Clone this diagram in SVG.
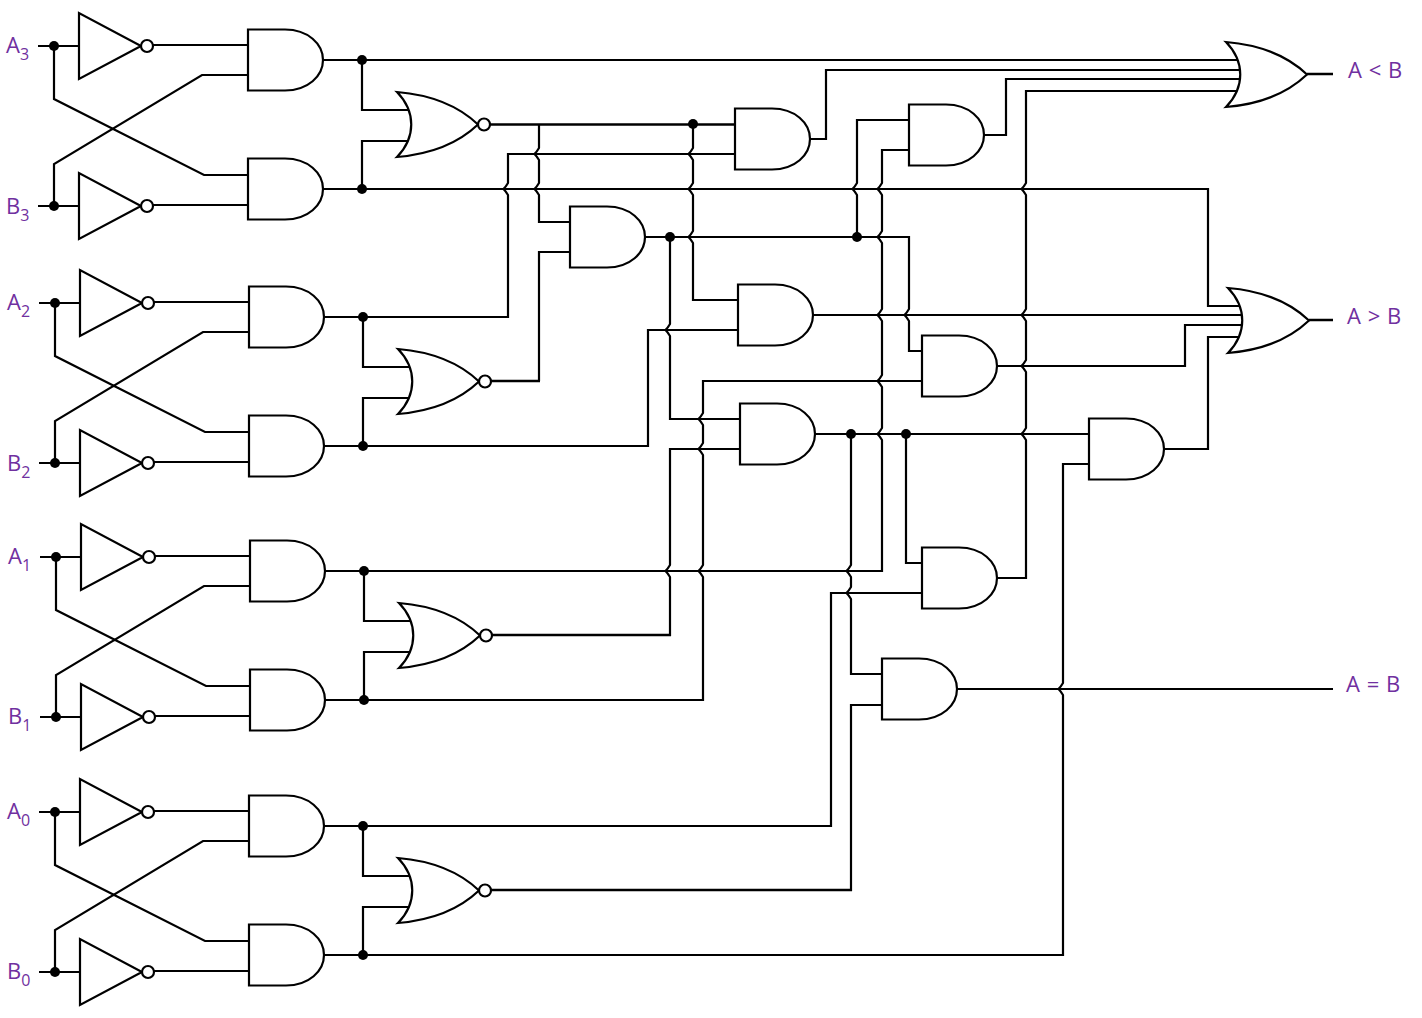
<svg xmlns="http://www.w3.org/2000/svg" width="1422" height="1018" viewBox="0 0 1422 1018">
<style>
.w{fill:none;stroke:#000;stroke-width:2.2;stroke-linejoin:miter}
.t{stroke-width:2.7}
.g{fill:#fff;stroke:#000;stroke-width:2.2;stroke-linejoin:miter}
.d{fill:#000;stroke:none}
.l{font-family:"Open Sans","Liberation Sans",sans-serif;font-size:22px;fill:#7030a0;word-spacing:1px}
.s{font-size:16px}
</style>
<defs>
<g id="and"><path class="g" d="M0 -30.5H37C60 -30.5 75 -16 75 0C75 16 60 30.5 37 30.5H0Z"/></g>
<g id="or"><path class="g" d="M0 -32.5C30 -30 60 -20 81 0C60 20 30 30 0 32.5C19 13 19 -13 0 -32.5Z"/></g>
<g id="nor"><use href="#or"/><circle class="g" cx="87" cy="0" r="6"/></g>
<g id="not"><path class="g" d="M0 -33V33L62 0Z"/><circle class="g" cx="68" cy="0" r="6"/></g>
</defs>
<rect width="1422" height="1018" fill="#fff"/>
<g id="connectors">
<path class="w" d="M38 46H79M54 46V99L204 175H248M38 206H79M54 206V164L202 75H248M153 45H248M153 205H248"/>
<path class="w" d="M39 303H80M55 303V356L205 432H249M39 463H80M55 463V421L203 332H249M154 302H249M154 462H249"/>
<path class="w" d="M40 557H81M56 557V610L206 686H250M40 717H81M56 717V675L204 586H250M155 556H250M155 716H250"/>
<path class="w" d="M39 812H80M55 812V865L205 941H249M39 972H80M55 972V930L203 841H249M154 811H249M154 971H249"/>
<path class="w" d="M323 60H1245"/>
<path class="w" d="M362 60V110H412"/>
<path class="w" d="M412 141H362V189"/>
<path class="w" d="M323 189H1208V306H1245"/>
<path class="w" d="M324 317H363V367H412"/>
<path class="w" d="M412 398H363V446"/>
<path class="w" d="M325 571H364V621H412"/>
<path class="w" d="M412 652H364V700"/>
<path class="w" d="M324 826H363V876H412"/>
<path class="w" d="M412 907H363V955"/>
<path class="w t" d="M490 124.5H735"/>
<path class="w" d="M539 124V148q-2 3.5-4.5 6q2.5 2.5 4.5 6V183q-2 3.5-4.5 6q2.5 2.5 4.5 6V222H570"/>
<path class="w" d="M693 124V148q-2 3.5-4.5 6q2.5 2.5 4.5 6V183q-2 3.5-4.5 6q2.5 2.5 4.5 6V231q-2 3.5-4.5 6q2.5 2.5 4.5 6V300H738"/>
<path class="w" d="M735 154H508V183q-2 3.5-4.5 6q2.5 2.5 4.5 6V317H324"/>
<path class="w t" d="M491 381H540"/>
<path class="w" d="M539 381V252H570"/>
<path class="w" d="M645 237H909V309q-2 3.5-4.5 6q2.5 2.5 4.5 6V351H922"/>
<path class="w" d="M909 120H857V183q-2 3.5-4.5 6q2.5 2.5 4.5 6V237"/>
<path class="w" d="M909 150H882V183q-2 3.5-4.5 6q2.5 2.5 4.5 6V231q-2 3.5-4.5 6q2.5 2.5 4.5 6V309q-2 3.5-4.5 6q2.5 2.5 4.5 6V375q-2 3.5-4.5 6q2.5 2.5 4.5 6V428q-2 3.5-4.5 6q2.5 2.5 4.5 6V571H325"/>
<path class="w" d="M738 330H648V446H324"/>
<path class="w" d="M922 381H703V413q-2 3.5-4.5 6q2.5 2.5 4.5 6V443q-2 3.5-4.5 6q2.5 2.5 4.5 6V565q-2 3.5-4.5 6q2.5 2.5 4.5 6V700H325"/>
<path class="w" d="M670 237V324q-2 3.5-4.5 6q2.5 2.5 4.5 6V419H740"/>
<path class="w" d="M740 449H670V565q-2 3.5-4.5 6q2.5 2.5 4.5 6V636"/>
<path class="w t" d="M671 635H492"/>
<path class="w" d="M815 434H1089"/>
<path class="w" d="M851 434V565q-2 3.5-4.5 6q2.5 2.5 4.5 6V587q-2 3.5-4.5 6q2.5 2.5 4.5 6V674H882"/>
<path class="w" d="M882 705H851V891"/>
<path class="w t" d="M852 890H491"/>
<path class="w" d="M922 593H831V826H324"/>
<path class="w" d="M906 434V563H922"/>
<path class="w" d="M984 135H1006V79H1245"/>
<path class="w" d="M810 139H826V70H1245"/>
<path class="w" d="M1245 91H1026V183q-2 3.5-4.5 6q2.5 2.5 4.5 6V309q-2 3.5-4.5 6q2.5 2.5 4.5 6V360q-2 3.5-4.5 6q2.5 2.5 4.5 6V428q-2 3.5-4.5 6q2.5 2.5 4.5 6V578H997"/>
<path class="w" d="M813 315H1245"/>
<path class="w" d="M997 366H1185V325H1245"/>
<path class="w" d="M1164 449H1208V337H1245"/>
<path class="w" d="M1089 464H1063V683q-2 3.5-4.5 6q2.5 2.5 4.5 6V955H324"/>
<path class="w" d="M957 689H1333"/>
<path class="w t" d="M1307 74H1333M1309 320H1333"/>
<g class="d">
<circle cx="54" cy="46" r="5"/><circle cx="54" cy="206" r="5"/><circle cx="55" cy="303" r="5"/><circle cx="55" cy="463" r="5"/>
<circle cx="56" cy="557" r="5"/><circle cx="56" cy="717" r="5"/><circle cx="55" cy="812" r="5"/><circle cx="55" cy="972" r="5"/>
<circle cx="362" cy="60" r="5"/><circle cx="362" cy="189" r="5"/><circle cx="363" cy="317" r="5"/><circle cx="363" cy="446" r="5"/>
<circle cx="364" cy="571" r="5"/><circle cx="364" cy="700" r="5"/><circle cx="363" cy="826" r="5"/><circle cx="363" cy="955" r="5"/>
<circle cx="693" cy="124" r="5"/><circle cx="670" cy="237" r="5"/><circle cx="857" cy="237" r="5"/><circle cx="851" cy="434" r="5"/><circle cx="906" cy="434" r="5"/>
</g>
</g>
<g id="not-a3"><use href="#not" x="79" y="46"/></g>
<g id="not-b3"><use href="#not" x="79" y="206"/></g>
<g id="not-a2"><use href="#not" x="80" y="303"/></g>
<g id="not-b2"><use href="#not" x="80" y="463"/></g>
<g id="not-a1"><use href="#not" x="81" y="557"/></g>
<g id="not-b1"><use href="#not" x="81" y="717"/></g>
<g id="not-a0"><use href="#not" x="80" y="812"/></g>
<g id="not-b0"><use href="#not" x="80" y="972"/></g>
<g id="and-a3"><use href="#and" x="248" y="60"/></g>
<g id="and-b3"><use href="#and" x="248" y="189"/></g>
<g id="and-a2"><use href="#and" x="249" y="317"/></g>
<g id="and-b2"><use href="#and" x="249" y="446"/></g>
<g id="and-a1"><use href="#and" x="250" y="571"/></g>
<g id="and-b1"><use href="#and" x="250" y="700"/></g>
<g id="and-a0"><use href="#and" x="249" y="826"/></g>
<g id="and-b0"><use href="#and" x="249" y="955"/></g>
<g id="nor-3"><use href="#nor" x="397" y="124.5"/></g>
<g id="nor-2"><use href="#nor" x="398" y="381.5"/></g>
<g id="nor-1"><use href="#nor" x="399" y="635.5"/></g>
<g id="nor-0"><use href="#nor" x="398" y="890.5"/></g>
<g id="and-m1"><use href="#and" x="735" y="139"/></g>
<g id="and-m2"><use href="#and" x="570" y="237"/></g>
<g id="and-m3"><use href="#and" x="738" y="315"/></g>
<g id="and-m4"><use href="#and" x="740" y="434"/></g>
<g id="and-m5"><use href="#and" x="909" y="135"/></g>
<g id="and-m6"><use href="#and" x="922" y="366"/></g>
<g id="and-m7"><use href="#and" x="922" y="578"/></g>
<g id="and-m8"><use href="#and" x="1089" y="449"/></g>
<g id="and-m9"><use href="#and" x="882" y="689"/></g>
<g id="or-lt"><use href="#or" x="1226" y="74.5"/></g>
<g id="or-gt"><use href="#or" x="1228" y="320.5"/></g>
<g id="label-a3"><text class="l" x="6" y="53">A<tspan class="s" dy="7">3</tspan></text></g>
<g id="label-b3"><text class="l" x="6" y="214">B<tspan class="s" dy="7">3</tspan></text></g>
<g id="label-a2"><text class="l" x="7" y="310">A<tspan class="s" dy="7">2</tspan></text></g>
<g id="label-b2"><text class="l" x="7" y="471">B<tspan class="s" dy="7">2</tspan></text></g>
<g id="label-a1"><text class="l" x="8" y="564">A<tspan class="s" dy="7">1</tspan></text></g>
<g id="label-b1"><text class="l" x="8" y="724">B<tspan class="s" dy="7">1</tspan></text></g>
<g id="label-a0"><text class="l" x="7" y="819">A<tspan class="s" dy="7">0</tspan></text></g>
<g id="label-b0"><text class="l" x="7" y="979">B<tspan class="s" dy="7">0</tspan></text></g>
<g id="label-lt"><text class="l" x="1348" y="78">A &lt; B</text></g>
<g id="label-gt"><text class="l" x="1347" y="324">A &gt; B</text></g>
<g id="label-eq"><text class="l" x="1346" y="692">A = B</text></g>
</svg>
